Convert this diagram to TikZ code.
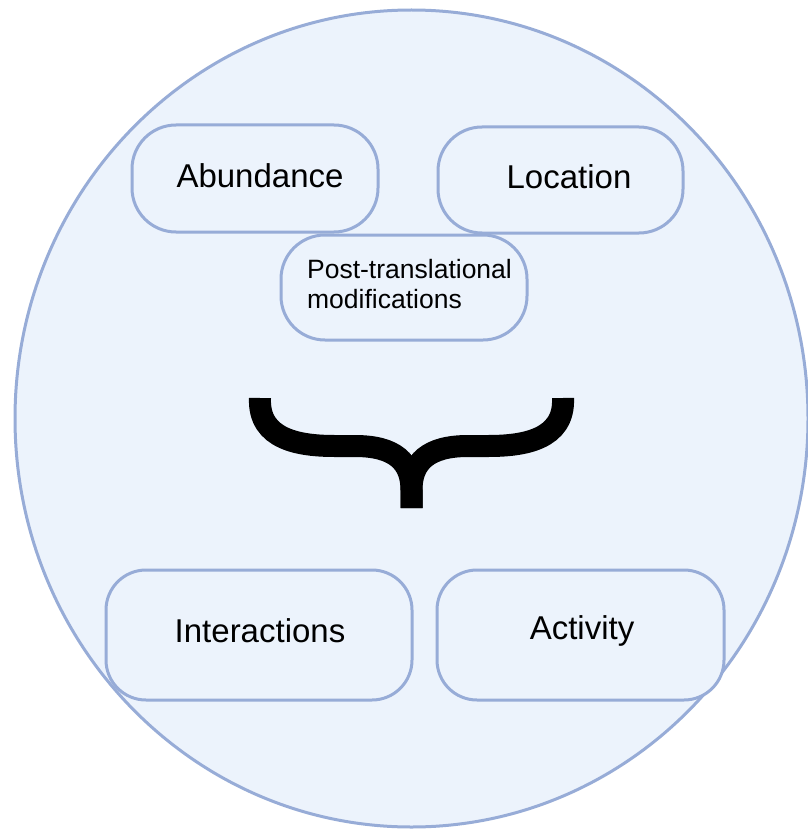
\documentclass[tikz,border=0pt]{standalone}
\usepackage{fontspec}
\setmainfont{Liberation Sans}
\definecolor{rimblue}{RGB}{151,172,215}
\definecolor{paleblue}{RGB}{236,243,252}
\begin{document}
\begin{tikzpicture}[x=1pt,y=-1pt,
  box/.style={draw=rimblue, line width=3pt, fill=paleblue, rounded corners=44pt,
              inner sep=0pt},
  boxtext/.style={inner sep=0pt, font=\fontsize{33}{40}\selectfont},
  bracestroke/.style={draw=black, line width=22pt, line cap=butt}]
  \useasboundingbox (0,0) rectangle (807,829);
  % enclosing disc
  \draw[draw=rimblue, line width=3pt, fill=paleblue] (411.5,418.5) ellipse [x radius=396.5, y radius=408.5];
  % property boxes and their captions
  \node[box, minimum width=246pt, minimum height=107pt] (abund) at (255,178.5) {};
  \node[boxtext] (abundtxt) at (260,176) {Abundance};
  \node[box, minimum width=245pt, minimum height=106pt] (loc) at (560.5,180) {};
  \node[boxtext] (loctxt) at (569,177) {Location};
  \node[box, minimum width=246pt, minimum height=105pt] (ptm) at (404,287.5) {};
  \node[boxtext, align=left, font=\fontsize{26.5}{30}\selectfont] (ptmtxt) at (409.5,284) {Post-translational\\modifications};
  \node[box, minimum width=306pt, minimum height=130pt, rounded corners=40pt] (inter) at (259,635) {};
  \node[boxtext] (intertxt) at (260,631) {Interactions};
  \node[box, minimum width=287pt, minimum height=130pt, rounded corners=40pt] (act) at (580.5,635) {};
  \node[boxtext] (acttxt) at (582,631) {Activity};
  % curly brace gathering the properties
  \coordinate (tip) at (411.5,508);
  \draw[bracestroke] (260,398) .. controls (258,440) and (300,446) .. (335,446)
        -- (355,446) .. controls (395,446) and (411.5,462) .. (411.5,490) -- (tip);
  \draw[bracestroke] (563,398) .. controls (565,440) and (523,446) .. (488,446)
        -- (468,446) .. controls (428,446) and (411.5,462) .. (411.5,490) -- (tip);
\end{tikzpicture}
\end{document}
